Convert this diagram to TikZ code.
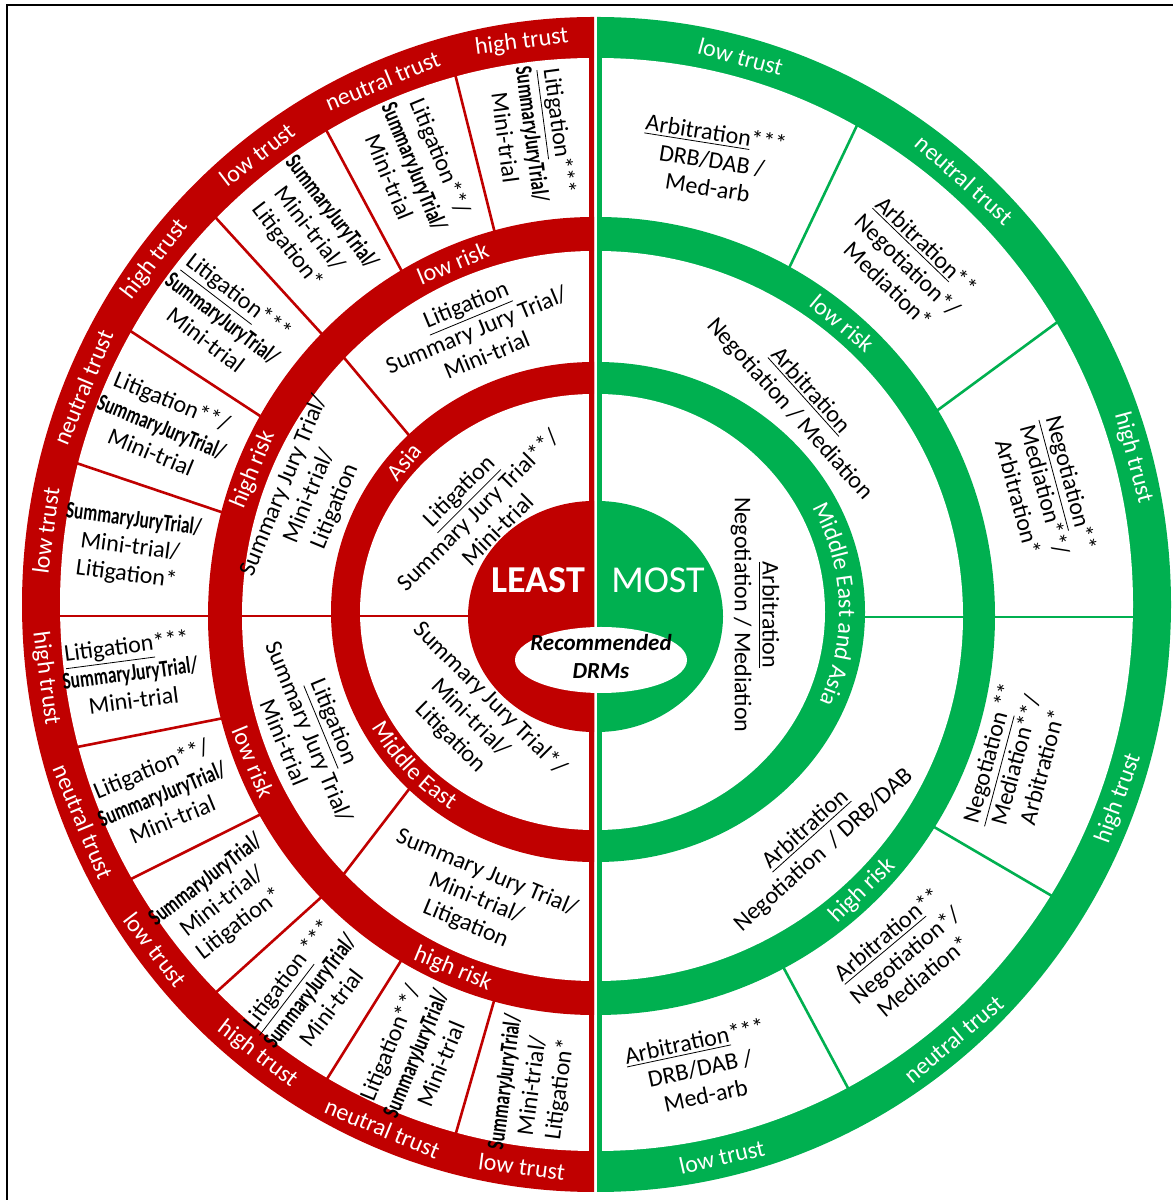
\documentclass[tikz,border=0pt]{standalone}
\usepackage{fontspec}
\setmainfont{Carlito}
\newfontfamily\condsans[FakeStretch=0.72]{Carlito}
\usetikzlibrary{decorations.text}
\definecolor{dred}{HTML}{C00000}
\definecolor{dgreen}{HTML}{00B050}
\newcommand\SJT{{\condsans\bfseries SummaryJuryTrial/}}
\newcommand\lefthalf[4]{\fill[#4] ([shift={(0,#3)}]#1) arc[start angle=90,end angle=270,x radius=#2,y radius=#3] -- cycle;}
\newcommand\righthalf[4]{\fill[#4] ([shift={(0,#3)}]#1) arc[start angle=90,end angle=-90,x radius=#2,y radius=#3] -- cycle;}
\begin{document}
\begin{tikzpicture}[x=0.5pt,y=0.5pt,
  rline/.style={draw=dred,line width=1.3pt},
  gline/.style={draw=dgreen,line width=1.3pt},
  btxt/.style={text=black,align=center,inner sep=0pt,font=\fontsize{12}{13.8}\selectfont},
  wlab/.style={text=white,inner sep=0pt,font=\fontsize{12}{12}\selectfont},
]
\useasboundingbox (0,0) rectangle (1173,1200);
\fill[white] (0,0) rectangle (1173,1200);
\draw[line width=1pt] (7,-20) rectangle (1190,1195);
% centres
\coordinate (RO) at (594,595.5); \coordinate (GO) at (597,595.5);
\coordinate (RM) at (594,584);   \coordinate (GM) at (597,584);
\coordinate (RI) at (594,588);   \coordinate (GI) at (597,588);
\coordinate (RD) at (594,583.5); \coordinate (GD) at (597,583.5);
\coordinate (RT) at (594,590);   \coordinate (RS) at (594,586);
% ---------- red half ----------
\lefthalf{RO}{572}{587.5}{dred}
\lefthalf{RO}{534}{546.5}{white}
\foreach \a in {105,120,135,150,165,195,210,225,240,255}
  \draw[rline] ([shift={(\a:375 and 388)}]RM) -- ([shift={(\a:545 and 558)}]RO);
\lefthalf{RM}{386}{399}{dred}
\lefthalf{RM}{352}{365}{white}
\foreach \a in {135,225}
  \draw[rline] ([shift={(\a:255 and 242)}]RI) -- ([shift={(\a:360 and 373)}]RM);
\lefthalf{RI}{263}{250}{dred}
\lefthalf{RI}{234}{218}{white}
\coordinate (hl1) at (25,584); \coordinate (hl2) at (480,584);
\draw[rline] (hl1) -- (hl2);
\lefthalf{RD}{126}{115.5}{dred}
\coordinate (rv1) at (591.5,8); \coordinate (rv2) at (591.5,1183);
\draw[draw=dred,line width=2.5pt] (rv1) -- (rv2);
% ---------- green half ----------
\righthalf{GO}{574}{587.5}{dgreen}
\righthalf{GO}{536}{546.5}{white}
\foreach \a in {61,31,-32,-62}
  \draw[gline] ([shift={(\a:392 and 393)}]GM) -- ([shift={(\a:545 and 558)}]GO);
\righthalf{GM}{398}{399}{dgreen}
\righthalf{GM}{366}{365}{white}
\coordinate (gh1) at (855,583); \coordinate (gh2) at (1168,583);
\draw[gline] (gh1) -- (gh2);
\righthalf{GI}{268}{250}{dgreen}
\righthalf{GI}{228}{218}{white}
\righthalf{GD}{126}{115.5}{dgreen}
\coordinate (gv1) at (599.5,8); \coordinate (gv2) at (599.5,1183);
\draw[draw=dgreen,line width=2.5pt] (gv1) -- (gv2);
% centre ellipse
\fill[white] (601,540) ellipse [x radius=86, y radius=33];
\node[text=white,font=\fontsize{19}{19}\selectfont\bfseries] (least) at (538,620) {LEAST};
\node[text=white,font=\fontsize{19}{19}\selectfont] (most) at (658,620) {MOST};
\node[align=center,font=\fontsize{11.5}{14}\selectfont\bfseries\itshape] (rec) at (601,543) {Recommended\\DRMs};
% ---------- red band labels ----------
\node[wlab,rotate=7.5]   (t1)  at ([shift={(97.5:553 and 567)}]RO) {high trust};
\node[wlab,rotate=22.5]  (t2)  at ([shift={(112.5:553 and 567)}]RO) {neutral trust};
\node[wlab,rotate=37.5]  (t3)  at ([shift={(127.5:553 and 567)}]RO) {low trust};
\node[wlab,rotate=52.5]  (t4)  at ([shift={(142.5:553 and 567)}]RO) {high trust};
\node[wlab,rotate=67.5]  (t5)  at ([shift={(157.5:553 and 567)}]RO) {neutral trust};
\node[wlab,rotate=82.5]  (t6)  at ([shift={(172.5:553 and 567)}]RO) {low trust};
\node[wlab,rotate=-82.5] (t7)  at ([shift={(187.5:553 and 567)}]RO) {high trust};
\node[wlab,rotate=-67.5] (t8)  at ([shift={(202.5:553 and 567)}]RO) {neutral trust};
\node[wlab,rotate=-52.5] (t9)  at ([shift={(217.5:553 and 567)}]RO) {low trust};
\node[wlab,rotate=-37.5] (t10) at ([shift={(232.5:553 and 567)}]RO) {high trust};
\node[wlab,rotate=-22.5] (t11) at ([shift={(247.5:553 and 567)}]RO) {neutral trust};
\node[wlab,rotate=-7.5]  (t12) at ([shift={(262.5:553 and 567)}]RO) {low trust};
\node[wlab,rotate=22.5]  (k1) at ([shift={(112.5:369 and 382)}]RM) {low risk};
\node[wlab,rotate=67.5]  (k2) at ([shift={(157.5:369 and 382)}]RM) {high risk};
\node[wlab,rotate=-67.5] (k3) at ([shift={(202.5:369 and 382)}]RM) {low risk};
\node[wlab,rotate=-22.5] (k4) at ([shift={(247.5:369 and 382)}]RM) {high risk};
\node[wlab,rotate=50] (asia) at ([shift={(140:248 and 234)}]RI) {Asia};
\path[decorate,decoration={text along path,text align=center,text color=white,
  text={|\fontsize{12}{12}\selectfont|Middle East}}]
  ([shift={(198:254 and 240)}]RI) arc[start angle=198,end angle=246,x radius=254,y radius=240];
% ---------- green band labels ----------
\node[wlab,rotate=-15]  (u1) at ([shift={(75:555 and 567)}]GO) {low trust};
\node[wlab,rotate=-41.5](u2) at ([shift={(48.5:555 and 567)}]GO) {neutral trust};
\node[wlab,rotate=-75]  (u3) at ([shift={(15:555 and 567)}]GO) {high trust};
\node[wlab,rotate=70]   (u4) at ([shift={(-20:555 and 567)}]GO) {high trust};
\node[wlab,rotate=40]   (u5) at ([shift={(-50:555 and 567)}]GO) {neutral trust};
\node[wlab,rotate=13]   (u6) at ([shift={(-77:555 and 567)}]GO) {low trust};
\node[wlab,rotate=-40] (v1) at ([shift={(50:382 and 382)}]GM) {low risk};
\node[wlab,rotate=44]  (v2) at ([shift={(-46:382 and 382)}]GM) {high risk};
\path[decorate,decoration={text along path,text align=center,text color=white,
  text={|\fontsize{12}{12}\selectfont|Middle East and Asia}}]
  ([shift={(36:242 and 228)}]GI) arc[start angle=36,end angle=-32,x radius=242,y radius=228];
% ---------- red sector texts ----------
\node[btxt,rotate=-82.5] (r1)  at ([shift={(97.5:468 and 480)}]RT)  {\underline{Litigation}***\\ \SJT\\ Mini-trial};
\node[btxt,rotate=-67.5] (r2)  at ([shift={(112.5:468 and 480)}]RT) {Litigation**/\\ \SJT\\ Mini-trial};
\node[btxt,rotate=-52.5] (r3)  at ([shift={(127.5:468 and 480)}]RT) {\SJT\\ Mini-trial/\\ Litigation*};
\node[btxt,rotate=-37.5] (r4)  at ([shift={(142.5:468 and 480)}]RT) {\underline{Litigation}***\\ \SJT\\ Mini-trial};
\node[btxt,rotate=-22.5] (r5)  at ([shift={(157.5:468 and 480)}]RT) {Litigation**/\\ \SJT\\ Mini-trial};
\node[btxt,rotate=-7.5]  (r6)  at ([shift={(172.5:468 and 480)}]RT) {\SJT\\ Mini-trial/\\ Litigation*};
\node[btxt,rotate=7.5]   (r7)  at ([shift={(187.5:468 and 480)}]RT) {\underline{Litigation}***\\ \SJT\\ Mini-trial};
\node[btxt,rotate=22.5]  (r8)  at ([shift={(202.5:468 and 480)}]RT) {Litigation**/\\ \SJT\\ Mini-trial};
\node[btxt,rotate=37.5]  (r9)  at ([shift={(217.5:468 and 480)}]RT) {\SJT\\ Mini-trial/\\ Litigation*};
\node[btxt,rotate=52.5]  (r10) at ([shift={(232.5:468 and 480)}]RT) {\underline{Litigation}~***\\ \SJT\\ Mini-trial};
\node[btxt,rotate=67.5]  (r11) at ([shift={(247.5:468 and 480)}]RT) {Litigation**/\\ \SJT\\ Mini-trial};
\node[btxt,rotate=82.5]  (r12) at ([shift={(262.5:468 and 480)}]RT) {\SJT\\ Mini-trial/\\ Litigation*};
\node[btxt,rotate=22.5]  (m1) at ([shift={(112.5:308 and 308)}]RS) {\underline{Litigation}\\ Summary Jury Trial/\\ Mini-trial};
\node[btxt,rotate=67.5]  (m2) at ([shift={(157.5:308 and 308)}]RS) {Summary Jury Trial/\\ Mini-trial/\\ Litigation};
\node[btxt,rotate=-67.5] (m3) at ([shift={(202.5:308 and 308)}]RS) {\underline{Litigation}\\ Summary Jury Trial/\\ Mini-trial};
\node[btxt,rotate=-22.5] (m4) at ([shift={(247.5:308 and 308)}]RS) {Summary Jury Trial/\\ Mini-trial/\\ Litigation};
\node[btxt,rotate=45]  (i1) at (478,690) {\underline{Litigation}\\ Summary Jury Trial**/\\ Mini-trial};
\node[btxt,rotate=-45] (i2) at (470,482) {Summary Jury Trial*/\\ Mini-trial/\\ Litigation};
% ---------- green sector texts ----------
\node[btxt,rotate=-9]  (g1) at (712,1040) {\underline{Arbitration}***\\ DRB/DAB /\\ Med-arb};
\node[btxt,rotate=-44] (g2) at (908,935)  {\underline{Arbitration}**\\ Negotiation*/\\ Mediation*};
\node[btxt,rotate=-75] (g3) at (1045,710) {\underline{Negotiation}**\\ Mediation**/\\ Arbitration*};
\node[btxt,rotate=75]  (g4) at (1015,440) {\underline{Negotiation}~**\\ Mediation**/\\ Arbitration*};
\node[btxt,rotate=40]  (g5) at (905,245)  {\underline{Arbitration}**\\ Negotiation*/\\ Mediation*};
\node[btxt,rotate=12]  (g6) at (700,132)  {\underline{Arbitration}***\\ DRB/DAB /\\ Med-arb};
\node[btxt,rotate=-48] (gm1) at (800,800) {\underline{Arbitration}\\ Negotiation / Mediation};
\node[btxt,rotate=42]  (gm2) at (815,360) {\underline{Arbitration}\\ Negotiation~ / DRB/DAB};
\node[btxt,rotate=-90] (gi) at (755,585)  {\underline{Arbitration}\\ Negotiation / Mediation};
\end{tikzpicture}
\end{document}
